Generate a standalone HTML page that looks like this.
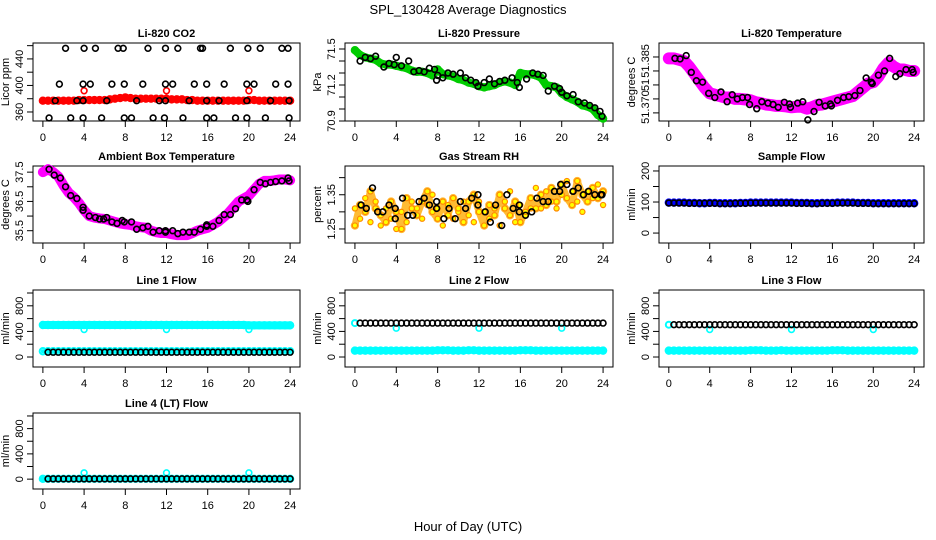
<!DOCTYPE html>
<html><head><meta charset="utf-8"><style>
html,body{margin:0;padding:0;background:#fff}
svg{display:block;font-family:"Liberation Sans",Arial,sans-serif}
</style></head><body>
<svg id="c" width="936" height="540" viewBox="0 0 936 540" xmlns="http://www.w3.org/2000/svg">
<text x="468" y="14" text-anchor="middle" font-size="13">SPL_130428  Average Diagnostics</text>
<text x="468" y="531" text-anchor="middle" font-size="13">Hour of Day (UTC)</text>
</svg>
<script>
const hh=[0,0.5,1,1.5,2,2.5,3,3.5,4,4.5,5,5.5,6,6.5,7,7.5,8,8.5,9,9.5,10,10.5,11,11.5,12,12.5,13,13.5,14,14.5,15,15.5,16,16.5,17,17.5,18,18.5,19,19.5,20,20.5,21,21.5,22,22.5,23,23.5,24];
const xTicks=[0,4,8,12,16,20,24];
// CO2
const co2Red=[377,377,377,377,377,377,377,378,378,378,378,378,378,379,380,381,382,381,380,380,380,380,380,380,380,379,379,379,378,378,377,377,377,377,377,377,377,377,377,377,378,378,377,377,377,377,377,377,377];
const co2OutT=[4,12,20];
const co2Out=[392,392,392];
const co2BlackT=[2.2,4.0,5.1,7.3,7.8,10.2,11.9,13.1,15.3,15.5,18.2,19.9,21.1,23.2,23.8,1.6,3.9,4.6,6.7,7.9,9.7,11.9,12.6,14.7,15.9,17.6,19.8,20.5,22.6,23.8,0.6,2.7,3.9,5.7,7.9,8.6,10.7,11.8,13.6,15.9,16.6,18.7,19.8,21.6,23.9,1.2,3.3,3.9,6.2,9.1,11.3,11.9,14.2,15.9,17.1,19.8,22.1,23.9];
const co2BlackV=[456,456,456,456,456,456,456,456,456,456,456,456,456,456,456,402,402,402,402,402,402,402,402,402,402,402,402,402,402,402,351,351,351,351,351,351,351,351,351,351,351,351,351,351,351,377,377,377,377,377,377,377,377,377,377,377,377,377];
// Pressure
const presGreen=[71.49,71.45,71.43,71.42,71.41,71.38,71.37,71.37,71.36,71.35,71.34,71.32,71.31,71.31,71.30,71.28,71.33,71.29,71.28,71.27,71.25,71.24,71.22,71.21,71.19,71.18,71.19,71.20,71.22,71.23,71.22,71.20,71.30,71.29,71.29,71.28,71.26,71.20,71.19,71.18,71.13,71.10,71.08,71.06,71.03,71.02,71.00,70.95,70.92];
const presBlackT=[0.5,1,1.5,2,2.8,3.3,3.8,4,4.5,5.2,5.7,6.2,6.7,7.2,7.7,7.9,8,8.5,9,9.5,10.2,10.7,11.2,11.7,11.9,12.5,13,13.5,14,14.5,15.2,15.7,15.9,16.6,17.2,17.7,18.2,18.7,19.3,19.8,20,20.5,21.1,21.6,22.2,22.7,23.2,23.7,23.9];
const presBlackV=[71.40,71.43,71.42,71.44,71.35,71.38,71.37,71.43,71.36,71.40,71.31,71.32,71.31,71.34,71.33,71.24,71.28,71.26,71.30,71.29,71.30,71.26,71.24,71.22,71.19,71.22,71.25,71.21,71.23,71.24,71.26,71.22,71.18,71.25,71.30,71.29,71.28,71.15,71.19,71.17,71.14,71.11,71.12,71.06,71.05,71.03,71.01,70.98,70.94];
// Li-820 temperature
const tempMag=[51.3895,51.3895,51.389,51.3885,51.3865,51.384,51.3815,51.379,51.377,51.3765,51.376,51.3755,51.3755,51.375,51.375,51.3748,51.3745,51.3738,51.3735,51.373,51.3728,51.3725,51.3725,51.3723,51.372,51.3722,51.3722,51.3715,51.372,51.3728,51.373,51.3735,51.374,51.3745,51.375,51.3755,51.376,51.3775,51.379,51.3805,51.381,51.383,51.386,51.388,51.3865,51.3855,51.3855,51.385,51.385];
const tempBlackT=[0.6,1.1,1.7,2.2,2.7,3.3,3.9,4.5,5.1,5.7,6.2,6.7,7.2,7.7,7.9,8.6,9.1,9.7,10.2,10.7,11.3,11.8,11.9,12.6,13.1,13.6,14.2,14.7,15.3,15.8,15.9,16.5,17.1,17.6,18.2,18.7,19.3,19.8,19.9,20.5,21.1,21.6,22.2,22.6,23.2,23.8,23.9];
const tempBlackV=[51.3895,51.3893,51.3905,51.3845,51.3815,51.381,51.377,51.3755,51.3775,51.374,51.3765,51.375,51.3755,51.3755,51.373,51.3715,51.374,51.3735,51.373,51.372,51.3738,51.3732,51.372,51.3735,51.374,51.3675,51.3705,51.3738,51.3725,51.3732,51.3725,51.3745,51.3755,51.3758,51.3762,51.378,51.3825,51.381,51.3805,51.3835,51.385,51.3895,51.383,51.384,51.3855,51.3855,51.3845];
// Ambient box temperature
const ambMag=[37.5,37.6,37.5,37.35,37.05,36.8,36.65,36.45,36.2,36.0,35.95,35.92,35.9,35.85,35.8,35.75,35.72,35.7,35.65,35.62,35.6,35.5,35.45,35.42,35.42,35.38,35.35,35.35,35.35,35.42,35.5,35.55,35.6,35.7,35.8,35.95,36.1,36.3,36.5,36.6,36.7,36.9,37.1,37.2,37.2,37.22,37.25,37.25,37.22];
const ambBlackT=[0.6,1.1,1.7,2.2,2.7,3.3,3.9,3.9,4.5,5.1,5.5,5.9,6.2,6.7,7.2,7.7,7.9,8.6,9.1,9.7,10.2,10.7,11.3,11.9,11.9,12.6,13.1,13.6,14.2,14.7,15.3,15.9,15.9,16.5,17.1,17.6,18.2,18.7,19.3,19.8,19.9,20.5,21.1,21.6,22.1,22.6,23.2,23.8,23.9];
const ambBlackV=[37.6,37.4,37.3,37.0,36.7,36.6,36.3,36.2,36.0,35.95,35.9,35.9,35.95,35.8,35.75,35.85,35.8,35.8,35.55,35.6,35.65,35.45,35.5,35.5,35.45,35.5,35.4,35.45,35.45,35.45,35.55,35.7,35.65,35.65,35.85,36.05,36.05,36.25,36.55,36.55,36.5,36.9,37.15,37.1,37.15,37.18,37.2,37.3,37.2];
// Gas stream RH
const rhA=[1.26,1.32,1.30,1.36,1.31,1.29,1.27,1.33,1.30,1.25,1.34,1.31,1.29,1.33,1.36,1.30,1.28,1.33,1.29,1.34,1.31,1.27,1.33,1.35,1.30,1.26,1.32,1.29,1.35,1.31,1.29,1.33,1.27,1.30,1.34,1.31,1.35,1.32,1.37,1.33,1.38,1.34,1.32,1.39,1.35,1.33,1.37,1.34,1.36];
const rhB=[1.31,1.28,1.34,1.27,1.33,1.26,1.31,1.28,1.25,1.30,1.27,1.33,1.31,1.28,1.32,1.35,1.31,1.26,1.32,1.28,1.30,1.33,1.29,1.27,1.33,1.30,1.28,1.31,1.26,1.33,1.36,1.27,1.32,1.29,1.31,1.37,1.31,1.36,1.33,1.31,1.35,1.39,1.36,1.33,1.30,1.36,1.34,1.38,1.32];
const rhBlackT=[0.6,1.1,1.7,2.2,2.7,3.3,3.9,3.9,4.6,5.1,5.6,6.2,6.7,7.2,7.9,7.9,8.6,9.1,9.7,10.2,10.7,11.3,11.9,11.9,12.6,13.1,13.6,14.2,14.7,15.3,15.9,15.9,16.5,17.1,17.6,18.2,18.7,19.3,19.8,19.9,20.5,21.1,21.6,22.1,22.6,23.2,23.8,23.9];
const rhBlackV=[1.32,1.31,1.37,1.30,1.30,1.32,1.28,1.31,1.34,1.29,1.29,1.33,1.34,1.32,1.31,1.33,1.28,1.31,1.28,1.33,1.31,1.34,1.32,1.35,1.30,1.27,1.32,1.26,1.35,1.31,1.30,1.32,1.29,1.30,1.34,1.33,1.33,1.36,1.36,1.38,1.38,1.36,1.37,1.35,1.36,1.35,1.35,1.35,1.31];
// Sample flow
const sampBlue=[98,98,98,98,97,97,96,96,97,97,96,96,96,96,97,97,98,98,98,98,98,98,98,98,98,97,97,97,96,96,97,97,97,98,98,98,98,97,97,97,96,96,96,96,96,96,96,96,96];
const sampBlack=[97,97,97,97,96,96,96,96,96,96,95,95,95,96,96,96,97,97,97,97,97,97,97,97,97,96,96,96,95,95,96,96,96,97,97,97,97,96,96,96,95,95,95,95,95,95,95,95,95];
// Line flows
const l1Cyan=[500,500,500,500,500,500,500,500,500,500,500,500,500,500,500,500,500,500,500,500,500,500,500,500,500,500,500,500,500,500,500,500,500,500,500,500,500,500,500,500,495,495,495,495,495,495,495,495,495];
const l1Black=[75,75,75,75,75,75,75,75,75,75,75,75,75,75,75,75,75,75,75,75,75,75,75,75,75,75,75,75,75,75,75,75,75,75,75,75,75,75,75,75,75,75,75,75,75,75,75,75,75];
const l1Low=[90,90,90,90,90,90,90,90,90,90,90,90,90,90,90,90,90,90,90,90,90,90,90,90,90,90,90,90,90,90,90,90,90,90,90,90,90,90,90,90,90,90,90,90,90,90,90,90,90];
const l1OutT=[4,12,20];
const l1Out=[430,430,430];
const l2Black=[530,530,530,530,530,530,530,530,530,530,530,530,530,530,530,530,530,530,530,530,530,530,530,530,530,530,530,530,530,530,530,530,530,530,530,530,530,530,530,530,530,530,530,530,530,530,530,530,530];
const l2Cyan=[100,100,100,100,100,100,100,100,100,100,100,100,100,100,100,100,105,105,105,100,100,100,105,105,100,100,100,100,100,100,100,100,105,105,105,100,100,100,100,100,100,100,100,100,100,100,100,100,100];
const l2OutT=[4,12,20];
const l2Out=[450,450,450];
const l3Black=[505,505,505,505,505,505,505,505,505,505,505,505,505,505,505,505,505,505,505,505,505,505,505,505,505,505,505,505,505,505,505,505,505,505,505,505,505,505,505,505,505,505,505,505,505,505,505,505,505];
const l3Cyan=[100,100,100,100,100,100,100,100,100,100,100,100,100,100,100,100,105,105,105,100,100,100,105,100,100,100,100,100,100,100,100,100,105,105,105,100,100,100,100,100,100,100,100,100,100,100,100,100,100];
const l3OutT=[4,12,20];
const l3Out=[430,430,430];
const l4Black=[5,5,5,5,5,5,5,5,5,5,5,5,5,5,5,5,5,5,5,5,5,5,5,5,5,5,5,5,5,5,5,5,5,5,5,5,5,5,5,5,5,5,5,5,5,5,5,5,5];
const l4OutT=[4,12,20];
const l4Out=[100,100,100];

const svg=document.getElementById('c');
const NS='http://www.w3.org/2000/svg';
function mk(tag,attrs,parent){const e=document.createElementNS(NS,tag);for(const k in attrs)e.setAttribute(k,attrs[k]);(parent||svg).appendChild(e);return e;}
const colL=[33,345,659],colR=[300,613,924],rowT=[43,166,290,413],rowB=[121,243,367,489];

function panel(id,col,row,title,ylab,dom,ticks,labels){
  const g=mk('g',{});
  
  
  const L=colL[col],R=colR[col],T=rowT[row],B=rowB[row];
  const pad=(R-L)*0.04/1.08;
  const x=t=>L+pad+(t/24)*(R-L-2*pad);
  const y=v=>B-(v-dom[0])/(dom[1]-dom[0])*(B-T);
  const box=mk('rect',{x:L,y:T,width:R-L,height:B-T,fill:'none',stroke:'#000','stroke-width':1},g);
  
  
  const tt=mk('text',{x:(L+R)/2,y:T-6,'text-anchor':'middle','font-size':11,'font-weight':'bold'},g);
  tt.textContent=title;
  
  
  const xa=mk('g',{},g);
  
  
  mk('line',{x1:x(0),x2:x(24),y1:B,y2:B,stroke:'#000'},xa);
  xTicks.forEach(t=>{mk('line',{x1:x(t),x2:x(t),y1:B,y2:B+6,stroke:'#000'},xa);
    const lb=mk('text',{x:x(t),y:B+20,'text-anchor':'middle','font-size':11},xa);lb.textContent=t;});
  const ya=mk('g',{},g);
  
  
  ticks.forEach(v=>{mk('line',{x1:L-6,x2:L,y1:y(v),y2:y(v),stroke:'#000'},ya);});
  mk('line',{x1:L,x2:L,y1:y(ticks[0]),y2:y(ticks[ticks.length-1]),stroke:'#000'},ya);
  labels.forEach(p=>{const lb=mk('text',{x:0,y:0,'text-anchor':'middle','font-size':11,transform:`translate(${L-10},${y(p[0])}) rotate(-90)`},ya);lb.textContent=p[1];});
  const yl=mk('text',{x:0,y:0,'text-anchor':'middle','font-size':11,transform:`translate(${L-24},${(T+B)/2}) rotate(-90)`},g);
  yl.textContent=ylab;
  
  
  return {x,y,g};
}
function band(p,ts,vs,color,w,name){
  const s=mk('g',{},p.g);
  
  
  mk('polyline',{points:ts.map((t,i)=>p.x(t)+','+p.y(vs[i])).join(' '),fill:'none',stroke:color,'stroke-width':w,'stroke-linejoin':'round','stroke-linecap':'round'},s);
  ts.forEach((t,i)=>mk('circle',{cx:p.x(t),cy:p.y(vs[i]),r:3.2,fill:'none',stroke:color,'stroke-width':2},s));
}
function pts(p,ts,vs,color,name,fill,r,sw){
  const s=mk('g',{},p.g);
  
  
  ts.forEach((t,i)=>mk('circle',{cx:p.x(t),cy:p.y(vs[i]),r:r||2.9,fill:fill||'none',stroke:color,'stroke-width':sw||1.6},s));
}

// CO2
let p=panel('co2',0,0,'Li-820 CO2','Licor ppm',[346.4,464],[360,380,400,420,440,460],[[360,'360'],[400,'400'],[440,'440']]);
band(p,hh,co2Red,'#f00',6,'co2-red-series');
pts(p,co2OutT,co2Out,'#f00','co2-red-outliers');
pts(p,co2BlackT,co2BlackV,'#000','co2-black-series');
// Pressure
p=panel('pressure',1,0,'Li-820 Pressure','kPa',[70.9,71.55],[70.9,71.0,71.1,71.2,71.3,71.4,71.5],[[70.9,'70.9'],[71.2,'71.2'],[71.5,'71.5']]);
band(p,hh,presGreen,'#0c0',8,'pressure-green-series');
pts(p,presBlackT,presBlackV,'#000','pressure-black-series');
// Temp
p=panel('li820-temp',2,0,'Li-820 Temperature','degrees C',[51.3671,51.395],[51.370,51.375,51.380,51.385,51.390],[[51.3721,'51.370'],[51.380,'51'],[51.3886,'51.385']]);
band(p,hh,tempMag,'#f0f',12,'temp-magenta-series');
pts(p,tempBlackT,tempBlackV,'#000','temp-black-series');
// Ambient
p=panel('ambient',0,1,'Ambient Box Temperature','degrees C',[35.08,37.71],[35.5,36,36.5,37,37.5],[[35.5,'35.5'],[36.5,'36.5'],[37.5,'37.5']]);
band(p,hh,ambMag,'#f0f',10,'ambient-magenta-series');
pts(p,ambBlackT,ambBlackV,'#000','ambient-black-series');
// RH
p=panel('rh',1,1,'Gas Stream RH','percent',[1.209,1.434],[1.25,1.30,1.35,1.40],[[1.25,'1.25'],[1.35,'1.35']]);
band(p,hh,rhA,'#fb3',7,'rh-orange-series-a');
pts(p,hh,rhB,'#f80','rh-orange-series-b','#ff0',2.6,1.2);
pts(p,hh,rhA,'#f80','rh-orange-series-a-points','#ff0',2.6,1.2);
pts(p,rhBlackT,rhBlackV,'#000','rh-black-series');
// Sample flow
p=panel('sample-flow',2,1,'Sample Flow','ml/min',[-32,216],[0,50,100,150,200],[[0,'0'],[100,'100'],[200,'200']]);
band(p,hh,sampBlue,'#00f',6,'sample-blue-series');
pts(p,hh,sampBlack,'#000','sample-black-series');
const flowTicks=[0,200,400,600,800,1000],flowLabels=[[0,'0'],[400,'400'],[800,'800']],flowDom=[-156,1047];
// Line 1
p=panel('line1',0,2,'Line 1 Flow','ml/min',flowDom,flowTicks,flowLabels);
band(p,hh,l1Cyan,'#0ff',8,'line1-cyan-series');
band(p,hh,l1Low,'#0ff',4,'line1-cyan-low-series');
pts(p,l1OutT,l1Out,'#0ff','line1-cyan-outliers');
pts(p,hh.slice(1),l1Black.slice(1),'#000','line1-black-series');
// Line 2
p=panel('line2',1,2,'Line 2 Flow','ml/min',flowDom,flowTicks,flowLabels);
band(p,hh,l2Cyan,'#0ff',7,'line2-cyan-series');
pts(p,l2OutT,l2Out,'#0ff','line2-cyan-outliers');
mk('circle',{cx:p.x(0),cy:p.y(530),r:3,fill:'none',stroke:'#0ff','stroke-width':2},p.g);
pts(p,hh.slice(1),l2Black.slice(1),'#000','line2-black-series');
// Line 3
p=panel('line3',2,2,'Line 3 Flow','ml/min',flowDom,flowTicks,flowLabels);
band(p,hh,l3Cyan,'#0ff',7,'line3-cyan-series');
pts(p,l3OutT,l3Out,'#0ff','line3-cyan-outliers');
mk('circle',{cx:p.x(0),cy:p.y(505),r:3,fill:'none',stroke:'#0ff','stroke-width':2},p.g);
pts(p,hh.slice(1),l3Black.slice(1),'#000','line3-black-series');
// Line 4
p=panel('line4',0,3,'Line 4 (LT) Flow','ml/min',flowDom,flowTicks,flowLabels);
band(p,hh,l4Black,'#0ff',5,'line4-cyan-series');
pts(p,l4OutT,l4Out,'#0ff','line4-cyan-outliers');
pts(p,hh.slice(1),l4Black.slice(1),'#000','line4-black-series');
</script>
</body></html>
